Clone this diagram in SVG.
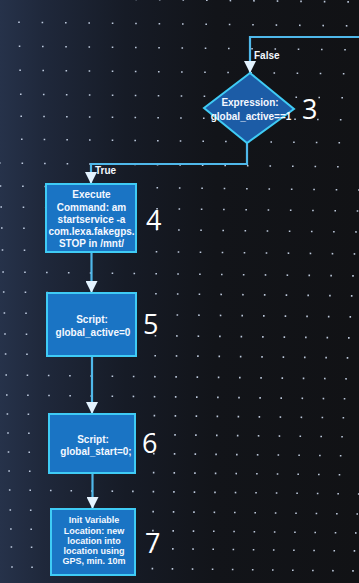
<svg xmlns="http://www.w3.org/2000/svg" width="359" height="583" viewBox="0 0 359 583">
  <defs>
    <linearGradient id="bg" x1="0" y1="0" x2="1" y2="0">
      <stop offset="0" stop-color="#26324a"/>
      <stop offset="0.12" stop-color="#1f283b"/>
      <stop offset="0.35" stop-color="#161b26"/>
      <stop offset="0.6" stop-color="#121419"/>
      <stop offset="1" stop-color="#111215"/>
    </linearGradient>
    <marker id="arrow" viewBox="0 0 12 12" refX="12" refY="6" markerWidth="12" markerHeight="12" markerUnits="userSpaceOnUse" orient="auto">
      <path d="M0,0 L12,6 L0,12 z" fill="#e4f3ff"/>
    </marker>
    <style>
      .dots { fill: none; stroke: #cfdcf0; stroke-width: 1.6; stroke-linecap: butt; opacity: 0.9; }
      .box { fill: #1a74c4; stroke: #3fcbf5; stroke-width: 2; }
      .decision { fill: #1c5ca6; stroke: #3fcbf5; stroke-width: 2; }
      .edge { fill: none; stroke: #4fb8ea; stroke-width: 2.2; marker-end: url(#arrow); }
      .label { font-family: "Liberation Sans", Arial, sans-serif; font-weight: bold; fill: #f4f8ff; text-anchor: middle; }
      .edge-label { font-family: "Liberation Sans", Arial, sans-serif; font-weight: bold; font-size: 10px; fill: #f4f8ff; }
      .step { font-family: "Open Sans", "DejaVu Sans", sans-serif; font-size: 27px; fill: #ffffff; }
    </style>
  </defs>

  <rect width="359" height="583" fill="url(#bg)"/>

  <!-- dotted canvas grid -->
  <g id="grid" class="dots">
    <path d="M-5.9 -2 L362 2" stroke-dasharray="1.6 21.95"/>
    <path d="M-5.2 22 L362 26" stroke-dasharray="1.6 21.8"/>
    <path d="M-4.5 46 L362 50" stroke-dasharray="1.6 21.65"/>
    <path d="M-3.8 70 L362 74" stroke-dasharray="1.6 21.51"/>
    <path d="M-3.0 94 L362 98" stroke-dasharray="1.6 21.36"/>
    <path d="M-2.4 116 L362 120" stroke-dasharray="1.6 21.22"/>
    <path d="M-1.7 139 L362 143" stroke-dasharray="1.6 21.08"/>
    <path d="M-1.0 163 L362 167" stroke-dasharray="1.6 20.94"/>
    <path d="M-0.3 186 L362 190" stroke-dasharray="1.6 20.8"/>
    <path d="M0.4 207 L362 211" stroke-dasharray="1.6 20.67"/>
    <path d="M1.0 228 L362 232" stroke-dasharray="1.6 20.54"/>
    <path d="M1.7 250 L362 254" stroke-dasharray="1.6 20.4"/>
    <path d="M2.3 272 L362 276" stroke-dasharray="1.6 20.27"/>
    <path d="M2.9 292 L362 296" stroke-dasharray="1.6 20.15"/>
    <path d="M3.6 313 L362 317" stroke-dasharray="1.6 20.02"/>
    <path d="M4.2 334 L362 338" stroke-dasharray="1.6 19.89"/>
    <path d="M4.8 354 L362 358" stroke-dasharray="1.6 19.77"/>
    <path d="M5.4 375 L362 379" stroke-dasharray="1.6 19.64"/>
    <path d="M6.0 395 L362 399" stroke-dasharray="1.6 19.51"/>
    <path d="M6.6 414 L362 418" stroke-dasharray="1.6 19.4"/>
    <path d="M7.2 433 L362 437" stroke-dasharray="1.6 19.28"/>
    <path d="M7.7 452 L362 456" stroke-dasharray="1.6 19.16"/>
    <path d="M8.3 471 L362 475" stroke-dasharray="1.6 19.05"/>
    <path d="M8.9 490 L362 494" stroke-dasharray="1.6 18.93"/>
    <path d="M9.5 510 L362 514" stroke-dasharray="1.6 18.81"/>
    <path d="M10.1 529 L362 533" stroke-dasharray="1.6 18.69"/>
    <path d="M10.6 547 L362 551" stroke-dasharray="1.6 18.58"/>
    <path d="M11.2 567 L362 571" stroke-dasharray="1.6 18.46"/>
  </g>

  <!-- connectors -->
  <g id="connectors">
    <path class="edge" d="M362 37 L250 37 L250 73"/>
    <path class="edge" d="M247 143 L247 164 L91 164 L91 184"/>
    <path class="edge" d="M91.5 252 L91.5 293"/>
    <path class="edge" d="M92 356 L92 414"/>
    <path class="edge" d="M92.5 473 L92.5 509"/>
    <text class="edge-label" x="254" y="59">False</text>
    <text class="edge-label" x="95" y="174">True</text>
  </g>

  <!-- step 3: decision -->
  <g id="node-expression">
    <polygon class="decision" points="250,73 294,109 247,143 204,108"/>
    <text class="label" font-size="10" x="250" y="106">Expression:</text>
    <text class="label" font-size="10" x="251" y="120">global_active==1</text>
    <text class="step" x="302" y="119">3</text>
  </g>

  <!-- step 4: execute command -->
  <g id="node-execute">
    <rect class="box" x="46" y="184" width="90" height="68"/>
    <text class="label" font-size="10" x="91.5" y="198">Execute</text>
    <text class="label" font-size="10" x="91.5" y="211">Command: am</text>
    <text class="label" font-size="10" x="91.5" y="223">startservice -a</text>
    <text class="label" font-size="10" x="91.5" y="235">com.lexa.fakegps.</text>
    <text class="label" font-size="10" x="91.5" y="247">STOP in /mnt/</text>
    <text class="step" x="146" y="230">4</text>
  </g>

  <!-- step 5: script -->
  <g id="node-script-active">
    <rect class="box" x="47" y="293" width="89" height="63"/>
    <text class="label" font-size="10" x="92" y="323">Script:</text>
    <text class="label" font-size="10" x="93" y="336">global_active=0</text>
    <text class="step" x="143" y="334">5</text>
  </g>

  <!-- step 6: script -->
  <g id="node-script-start">
    <rect class="box" x="49" y="414" width="86" height="59"/>
    <text class="label" font-size="10" x="93" y="443">Script:</text>
    <text class="label" font-size="10" x="96" y="455">global_start=0;</text>
    <text class="step" x="142" y="453">6</text>
  </g>

  <!-- step 7: init variable -->
  <g id="node-init-location">
    <rect class="box" x="51" y="509" width="84" height="66"/>
    <text class="label" font-size="9" x="94" y="523">Init Variable</text>
    <text class="label" font-size="9" x="94" y="533.5">Location: new</text>
    <text class="label" font-size="9" x="94" y="543.5">location into</text>
    <text class="label" font-size="9" x="94" y="553.5">location using</text>
    <text class="label" font-size="9" x="94" y="563.5">GPS, min. 10m</text>
    <text class="step" x="145" y="553">7</text>
  </g>
</svg>
